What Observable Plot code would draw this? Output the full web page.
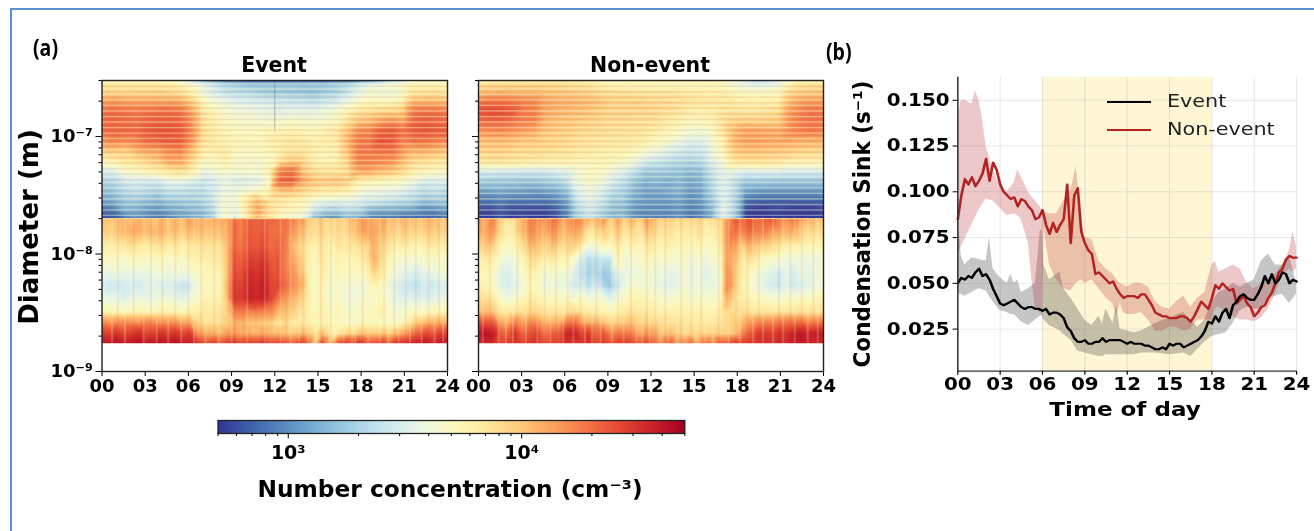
<!DOCTYPE html>
<html><head><meta charset="utf-8">
<script src="https://cdn.jsdelivr.net/npm/d3@7"></script>
<script src="https://cdn.jsdelivr.net/npm/@observablehq/plot@0.6"></script>
<style>
html,body{margin:0;padding:0;background:#fff;width:1314px;height:531px;overflow:hidden}
#page{position:relative;width:1314px;height:531px;filter:blur(0.5px)}
#border{position:absolute;left:9.5px;top:8px;width:1310px;height:540px;border:2.2px solid #5b8fd3;box-sizing:border-box}
.p{position:absolute}
.t{position:absolute;white-space:nowrap;font-family:"DejaVu Sans";font-weight:bold;color:#000;line-height:1}
</style></head><body><div id="page"><div id="border"></div></div>
<script>
// All concentrations are in units of 100 cm^-3, rows from largest diameter down, columns across the day.
const upperDiameters=[2.98e-7,2.75e-7,2.35e-7,2.01e-7,1.65e-7,1.36e-7,1.12e-7,9.2e-8,7.6e-8,6.2e-8,5.1e-8,4.2e-8,3.45e-8,2.84e-8,2.43e-8,2.02e-8];
const lowerDiameters=[2.0e-8,1.58e-8,1.18e-8,9.1e-9,6.9e-9,5.4e-9,4.2e-9,3.2e-9,2.6e-9,2.1e-9,1.74e-9];
const eventUpper=[
[50,50,50,50,50,50,50,40,25,15,10,8,7,6,6,6,6,6,6,6,6,7,7,8,9,14,22,30,45,50,50,50],
[70,70,70,70,70,70,65,60,45,35,28,22,20,18,18,18,18,18,17,18,18,20,22,28,35,40,45,50,55,55,55,55],
[90,90,85,85,85,90,85,80,60,40,30,25,22,22,20,18,18,17,17,16,18,20,24,35,45,40,40,45,70,75,75,70],
[130,140,130,130,130,130,130,120,90,55,40,35,30,30,28,28,25,25,25,22,25,28,35,45,50,50,50,60,110,110,110,100],
[190,200,190,180,190,200,200,190,130,70,55,45,40,38,36,35,32,35,35,35,38,42,55,70,75,80,85,95,180,190,190,170],
[200,210,200,190,210,220,220,210,150,75,60,50,45,42,42,40,42,45,42,42,45,50,70,100,110,130,150,130,210,220,210,200],
[200,210,210,200,230,240,240,230,160,80,65,55,50,50,50,55,55,60,55,55,60,65,100,160,170,220,230,190,230,240,230,220],
[150,170,160,170,200,210,220,220,150,75,65,60,55,55,50,60,65,70,65,60,60,65,110,180,180,240,230,170,190,190,170,160],
[90,95,90,110,130,130,160,170,110,65,60,65,50,50,48,55,60,70,70,60,55,60,100,180,180,190,190,140,120,120,110,100],
[55,60,70,75,85,95,130,130,85,50,48,60,45,45,42,48,70,90,85,60,55,58,80,170,170,160,150,110,80,75,70,65],
[30,32,45,50,55,60,70,75,60,38,40,48,42,45,42,55,170,190,100,75,70,70,75,130,130,110,100,80,60,55,50,50],
[20,22,28,30,28,28,35,35,30,26,28,36,30,32,32,45,210,220,130,100,95,100,90,60,55,52,50,48,38,30,32,30],
[16,17,22,24,22,20,24,24,22,22,28,35,36,40,45,60,100,100,85,70,65,65,60,45,38,36,35,32,26,22,24,22],
[12,13,17,18,16,14,17,18,18,20,25,42,40,65,110,70,65,60,55,40,35,33,35,30,28,26,24,22,20,16,18,18],
[8,9,14,14,12,11,13,14,15,16,22,45,35,70,130,75,60,55,50,28,22,20,24,22,15,14,14,13,12,10,11,12],
[6,6,8,10,9,8,9,11,13,14,20,45,30,60,110,70,45,40,35,14,10,9,14,12,9,8,8,7,7,7,7,8]];
const nonEventUpper=[
[60,62,65,70,70,72,75,72,70,70,68,62,60,60,58,60,60,60,60,60,58,58,50,40,28,22,22,28,50,60,62,60],
[75,80,80,85,85,85,82,80,75,72,68,60,55,55,55,55,52,52,52,50,52,55,50,40,35,32,35,38,62,72,78,75],
[105,115,120,115,110,110,105,100,100,95,90,80,75,75,75,72,72,70,70,65,62,60,60,55,50,50,50,55,85,95,100,100],
[170,190,190,180,165,160,130,120,120,115,110,100,90,90,90,85,85,82,78,72,72,70,70,65,60,58,60,62,110,130,140,140],
[240,260,250,230,180,170,125,115,110,105,100,90,85,85,85,85,80,75,70,62,60,62,70,70,68,68,72,80,140,170,190,180],
[190,210,210,190,170,165,115,105,100,95,90,85,80,80,78,78,75,65,60,52,52,55,75,85,90,88,90,90,150,175,190,180],
[150,155,160,150,135,125,100,95,90,85,80,78,75,75,72,70,62,55,50,42,40,48,72,110,135,135,130,125,160,175,185,175],
[105,110,110,105,95,95,90,85,80,75,72,70,68,66,65,60,52,45,38,32,32,42,62,115,135,135,130,125,125,120,120,115],
[85,88,88,85,80,80,78,75,72,68,65,62,60,58,52,46,38,32,28,26,26,36,55,95,105,105,100,100,95,88,85,85],
[70,72,72,70,68,66,65,62,60,55,55,55,52,48,38,30,26,24,22,20,22,32,42,70,75,75,72,70,62,62,60,60],
[30,30,28,28,27,27,28,30,32,42,50,48,38,32,24,18,18,17,17,15,16,26,35,35,30,32,32,32,30,30,30,30],
[19,18,18,18,17,17,18,20,24,40,45,42,28,24,17,14,15,14,15,13,14,22,32,24,18,18,18,17,17,17,17,17],
[12,12,13,12,12,11,12,13,16,32,38,32,22,20,14,12,12,13,14,11,12,20,32,22,12,11,11,11,11,11,11,11],
[8,8,9,8,8,8,8,9,12,26,32,26,18,17,12,11,11,11,12,10,11,17,30,20,8,7,7,7,7,7,7,7],
[6,6,7,6,6,6,6,7,10,22,28,22,16,15,11,10,10,10,11,9,10,15,34,20,6,5.5,5.5,6,5.5,5.5,5.5,6],
[5,5,6,5,5.5,5,5,6,9,20,24,18,14,15,10,9,9,9,10,8,9,13,30,18,5,5,5,5,5,5,5,5]];
const eventLower=[
[110,100,105,115,95,120,110,90,120,100,115,105,140,110,120,115,125,125,190,170,230,210,230,200,210,190,170,150,100,85,95,80,90,85,110,130,140,120,130,110,100,115,105,100,110,120,95,105],
[95,90,100,115,120,125,110,115,125,100,110,95,110,105,110,100,110,120,210,170,240,210,240,190,200,180,150,120,85,80,90,70,85,80,95,120,140,130,120,100,85,100,90,85,95,100,90,95],
[65,60,65,70,75,70,65,70,75,65,70,60,70,70,75,70,75,100,210,180,250,220,270,190,220,170,110,85,65,60,75,55,70,65,70,75,85,120,90,70,60,65,60,55,65,70,60,65],
[50,48,50,45,50,52,48,50,52,45,50,48,55,58,60,65,65,100,240,210,290,260,320,220,240,160,130,95,60,50,70,50,60,55,55,60,70,120,80,55,45,45,42,42,48,45,50,50],
[40,36,38,35,36,38,35,40,42,36,40,38,42,48,55,55,55,100,260,240,340,300,360,240,250,170,150,110,60,45,65,48,55,50,50,50,55,85,65,45,38,35,32,30,36,35,40,42],
[30,26,28,26,30,28,32,34,30,30,28,24,30,40,50,52,52,110,290,270,360,330,400,260,270,190,160,130,65,45,60,42,50,42,42,40,42,55,50,40,30,28,25,24,28,26,30,28],
[40,34,36,30,35,38,36,36,40,38,36,32,40,48,58,55,58,100,300,290,370,340,380,260,190,140,120,95,65,48,60,42,50,40,40,42,45,48,50,40,34,32,32,30,32,32,36,38],
[60,55,55,50,55,58,55,52,60,58,55,52,62,62,68,65,70,90,170,180,170,170,170,150,110,100,90,72,60,52,62,48,55,48,45,48,52,55,60,48,42,45,50,46,50,52,55,58],
[170,150,160,165,155,150,170,160,140,155,150,130,125,85,75,72,78,90,120,110,105,95,100,85,70,85,65,65,62,55,58,50,52,48,45,50,55,52,50,50,48,55,70,95,110,120,125,120],
[300,280,310,270,290,330,270,280,320,290,310,270,290,150,130,120,110,140,150,120,135,110,140,105,115,100,95,110,100,70,110,60,70,85,80,100,95,95,100,90,110,130,170,220,260,240,280,270],
[400,380,430,370,390,440,380,400,420,390,430,370,380,300,250,280,230,280,300,250,290,260,320,240,270,230,220,280,210,90,260,100,220,300,220,310,240,240,280,220,310,300,340,360,400,340,400,380]];
const nonEventLower=[
[160,120,170,90,70,80,120,170,170,130,200,160,130,180,150,120,110,150,90,130,85,120,90,150,100,85,95,80,85,75,90,70,80,75,160,230,200,260,190,230,240,170,150,190,120,120,100,110],
[140,130,150,80,60,75,110,160,150,110,170,120,110,150,110,70,80,100,75,100,70,85,70,110,85,70,80,65,70,62,75,58,65,70,170,190,170,210,170,180,150,130,120,130,85,85,80,85],
[85,100,90,55,50,55,75,110,110,75,110,80,80,95,60,40,45,55,50,70,50,60,55,70,60,55,60,52,60,50,60,48,52,60,160,130,90,120,90,90,80,70,60,60,55,55,52,60],
[55,65,60,42,38,42,55,75,80,55,70,55,60,45,30,22,24,25,25,55,38,45,45,55,48,45,45,42,50,38,45,38,45,50,150,100,65,75,60,50,45,42,40,40,38,38,38,42],
[55,55,50,32,30,36,45,60,55,38,50,40,42,30,26,18,22,17,20,35,35,38,38,45,38,38,36,35,42,35,40,32,38,42,170,90,60,50,42,35,32,28,36,28,38,34,40,45],
[60,55,50,32,30,32,40,55,50,36,40,36,38,26,30,22,28,20,17,28,38,45,42,42,36,36,32,35,42,36,40,34,36,42,180,85,55,45,38,32,28,26,34,26,32,32,38,40],
[80,75,65,45,38,45,50,65,60,48,50,48,50,40,50,38,45,40,32,42,50,58,55,55,48,45,42,45,50,42,48,45,45,50,130,70,62,55,50,48,45,42,48,45,50,48,55,60],
[110,110,100,70,65,72,75,85,85,70,72,70,70,85,70,65,62,60,55,60,70,72,68,68,62,60,60,60,62,58,62,58,58,62,85,75,78,72,70,72,68,72,72,70,75,72,70,80],
[260,240,230,130,120,170,130,160,170,110,120,120,170,210,130,120,120,110,85,90,100,100,85,90,80,75,75,72,72,68,68,68,68,72,85,90,110,140,160,170,170,190,190,200,200,170,180,190],
[400,420,380,230,220,320,210,240,280,180,230,220,350,380,260,300,200,240,170,180,190,170,130,150,130,90,110,90,80,85,80,85,90,85,90,100,170,230,290,300,280,320,320,380,400,350,380,380],
[360,350,340,260,290,320,270,300,310,250,280,260,330,300,300,340,260,290,250,270,290,250,230,260,200,160,230,150,160,190,130,200,150,220,230,280,280,300,310,330,320,340,340,370,380,360,350,360]];
// Size bins seen as pale stripes in the upper instrument range, and the darker bins between them.
const paleBins=[2.13e-8,2.37e-8,2.64e-8,2.94e-8,3.28e-8,3.65e-8,4.07e-8,4.53e-8,5.05e-8,5.62e-8,6.26e-8,6.97e-8,7.77e-8,8.65e-8,9.63e-8,1.07e-7,1.19e-7,1.33e-7,1.48e-7,1.65e-7,1.84e-7,2.05e-7,2.28e-7,2.54e-7,2.83e-7];
const darkBins=[2.25e-8,2.5e-8,2.79e-8,3.1e-8,3.46e-8,3.85e-8,4.3e-8,4.78e-8,5.33e-8,5.93e-8,6.6e-8,7.36e-8,8.2e-8,9.13e-8,1.02e-7,1.13e-7,1.26e-7,1.4e-7,1.56e-7,1.74e-7,1.94e-7,2.16e-7,2.41e-7,2.68e-7];
// Narrow vertical streaks in the lower instrument range (hour of day).
const eventPaleStreaks=[.7,1.6,2.9,3.8,4.6,5.5,6.4,7.2,8.1,9,10.1,11.3,12.4,13.1,13.7,14.3,14.9,15.5,16.2,16.8,17.6,18.5,19.3,19.9,20.6,21.4,22.2,23.1,23.7];
const eventDarkStreaks=[1.1,2.2,3.4,4.2,5.1,6,6.9,7.8,9.2,9.8,10.7,11.8,12.8,14,15.2,15.9,17.2,18.1,19.6,20.3,21.1,21.8,22.7,23.4];
const nonEventPaleStreaks=[.3,1.4,1.9,2.4,3.3,4.1,5,5.9,6.6,7.4,7.9,8.5,9.3,10.1,11,11.4,11.9,12.6,13.2,13.8,14.4,15.1,15.8,16.3,17.4,18.2,19.1,19.8,20.5,21.2,22,22.9,23.6];
const nonEventDarkStreaks=[.8,2.7,3.6,4.6,5.4,6.2,7.1,8.2,9.7,10.6,11.7,12.3,13,14.1,14.8,15.5,16.7,17.9,18.7,19.5,20.9,21.7,22.5,23.3];
const hourTicks=[0,3,6,9,12,15,18,21,24];
const majorDiameters=[1e-9,1e-8,1e-7];
const minorDiameters=[2e-9,3e-9,4e-9,5e-9,6e-9,7e-9,8e-9,9e-9,2e-8,3e-8,4e-8,5e-8,6e-8,7e-8,8e-8,9e-8,2e-7,3e-7];
const sinkHours=[0,.25,.5,.75,1,1.25,1.5,1.75,2,2.25,2.5,2.75,3,3.25,3.5,3.75,4,4.25,4.5,4.75,5,5.25,5.5,5.75,6,6.25,6.5,6.75,7,7.25,7.5,7.75,8,8.25,8.5,8.75,9,9.25,9.5,9.75,10,10.25,10.5,10.75,11,11.25,11.5,11.75,12,12.25,12.5,12.75,13,13.25,13.5,13.75,14,14.25,14.5,14.75,15,15.25,15.5,15.75,16,16.25,16.5,16.75,17,17.25,17.5,17.75,18,18.25,18.5,18.75,19,19.25,19.5,19.75,20,20.25,20.5,20.75,21,21.25,21.5,21.75,22,22.25,22.5,22.75,23,23.25,23.5,23.75,24];
const eventSink=[.050,.053,.052,.054,.053,.056,.058,.054,.055,.052,.047,.043,.039,.038,.039,.040,.041,.039,.037,.036,.037,.037,.036,.036,.035,.036,.033,.034,.034,.033,.031,.026,.024,.020,.018,.018,.019,.017,.017,.018,.018,.020,.018,.019,.019,.019,.019,.018,.017,.018,.017,.017,.017,.016,.016,.015,.014,.014,.015,.014,.017,.016,.017,.017,.015,.016,.017,.018,.019,.021,.024,.029,.028,.032,.029,.034,.036,.031,.038,.040,.043,.044,.042,.041,.041,.044,.048,.054,.050,.055,.050,.052,.056,.055,.050,.052,.051];
const nonEventSink=[.085,.098,.107,.104,.108,.103,.106,.110,.118,.106,.116,.112,.104,.100,.098,.096,.097,.092,.096,.095,.092,.090,.085,.086,.090,.082,.077,.083,.078,.082,.085,.104,.072,.098,.102,.078,.072,.068,.066,.055,.056,.054,.052,.050,.051,.047,.044,.042,.043,.043,.043,.042,.044,.044,.041,.038,.034,.033,.032,.032,.031,.031,.031,.032,.032,.031,.029,.032,.036,.040,.038,.036,.042,.049,.047,.050,.048,.046,.047,.039,.041,.043,.039,.037,.032,.034,.037,.038,.042,.045,.050,.056,.058,.063,.065,.064,.064];
const nonEventBandHours=[0,.25,.5,1,1.25,1.5,1.75,2,2.5,3,3.5,4,4.25,4.5,5,5.25,5.5,6,6.12,6.5,7,7.5,8,8.4,8.75,9,9.5,10,10.5,11,11.25,11.5,11.75,12,12.5,13,13.5,14,14.5,15,15.5,16,16.5,17,17.5,18,18.25,18.5,19,19.5,20,20.5,21,21.5,22,22.5,23,23.5,23.75,24];
const nonEventLow=[.066,.07,.074,.082,.086,.09,.093,.096,.095,.091,.087,.088,.087,.085,.072,.052,.036,.033,.08,.06,.052,.047,.046,.05,.052,.05,.052,.047,.042,.039,.032,.039,.034,.033,.033,.034,.03,.024,.024,.026,.026,.024,.025,.03,.03,.03,.036,.037,.034,.032,.03,.03,.029,.031,.036,.044,.054,.058,.056,.058];
const nonEventHigh=[.14,.15,.15,.148,.155,.15,.14,.125,.112,.103,.1,.105,.112,.108,.1,.097,.095,.09,.089,.088,.088,.095,.1,.114,.085,.075,.074,.062,.058,.055,.052,.05,.049,.048,.05,.05,.048,.04,.037,.036,.04,.043,.037,.042,.045,.06,.062,.056,.058,.06,.058,.05,.047,.05,.052,.055,.06,.068,.078,.07];
const eventBandHours=[0,.1,.25,.5,1,1.5,2,2.25,2.5,3,3.5,3.75,4,4.25,4.5,5,5.5,5.85,6,6.1,6.5,7,7.25,7.5,8,8.5,9,9.5,10,10.25,10.5,11,11.25,11.5,12,12.5,13,14,15,16,16.5,17,17.5,18,18.5,19,19.5,20,20.5,21,21.5,22,22.5,23,23.5,24];
const eventLow=[.044,.044,.044,.043,.045,.047,.046,.043,.04,.035,.034,.033,.033,.031,.029,.027,.03,.032,.032,.03,.027,.025,.024,.022,.019,.013,.012,.011,.01,.01,.011,.011,.011,.011,.011,.011,.012,.012,.011,.012,.01,.014,.018,.021,.022,.023,.028,.035,.037,.036,.036,.042,.043,.044,.039,.044];
const eventHigh=[.068,.08,.065,.06,.064,.063,.062,.075,.058,.053,.05,.055,.05,.052,.045,.047,.05,.079,.079,.06,.052,.055,.056,.047,.042,.036,.03,.027,.032,.028,.036,.028,.038,.025,.024,.023,.024,.028,.031,.034,.03,.026,.03,.04,.045,.047,.05,.048,.05,.052,.062,.066,.06,.06,.065,.05];
const daylight=[[6,18]];
const colorMajor=[1000,10000];
const colorMinor=[500,600,700,800,900,2000,3000,4000,5000,6000,7000,8000,9000,20000,30000,40000,50000];

const page=document.getElementById("page");
const font={fontFamily:"DejaVu Sans",fontWeight:"bold",fontSize:18,color:"#000",background:"none"};
const colorScale={type:"log",domain:[500,50000],scheme:"RdYlBu",reverse:true};
const pad=h=>String(h).padStart(2,"0");
const sup={"1e-7":"10⁻⁷","1e-8":"10⁻⁸","1e-9":"10⁻⁹"};
function place(svg,left,top,w,h){svg.classList.add("p");svg.style.left=left+"px";svg.style.top=top+"px";
  if(w){svg.setAttribute("width",w);svg.setAttribute("height",h);svg.setAttribute("preserveAspectRatio","none");svg.style.width=w+"px";svg.style.height=h+"px"}
  svg.style.overflow="visible";page.appendChild(svg)}
function label(text,x,y,size,extra=""){const d=document.createElement("div");d.className="t";d.textContent=text;
  d.style.cssText=`left:${x}px;top:${y}px;font-size:${size}px;transform:translate(-50%,-50%) ${extra};`;page.appendChild(d)}
function cells(rows,diams){return rows.flatMap((r,i)=>r.map((n,j)=>({h:j*24/(r.length-1),d:diams[i],n:n*100})))}
function panel(up,low,opts){
  const tall={y1:2.02e-8,y2:1.74e-9};
  return Plot.plot({width:opts.width,height:340,marginTop:20,marginBottom:29,marginLeft:opts.left,marginRight:13,style:font,
    x:{domain:[0,24]},y:{type:"log",domain:[1e-9,3e-7]},color:colorScale,
    marks:[
      Plot.raster(cells(up,upperDiameters),{x:"h",y:"d",fill:"n",interpolate:"barycentric",x1:0,x2:24,y1:3e-7,y2:2.02e-8,pixelSize:1}),
      Plot.raster(cells(low,lowerDiameters),{x:"h",y:"d",fill:"n",interpolate:"barycentric",x1:0,x2:24,y1:2.02e-8,y2:1.74e-9,pixelSize:1}),
      Plot.ruleY(darkBins,{stroke:"#a33",strokeOpacity:.1,strokeWidth:1.6}),
      Plot.ruleY(paleBins,{stroke:"#fff8d0",strokeOpacity:.42,strokeWidth:1.3}),
      Plot.ruleX(opts.pale,{...tall,stroke:"#fff6c8",strokeOpacity:.22,strokeWidth:2}),
      Plot.ruleX(opts.dark,{...tall,stroke:"#c2261f",strokeOpacity:.08,strokeWidth:2}),
      opts.mark12?Plot.ruleX([12],{y1:2.9e-7,y2:1.1e-7,stroke:"#667",strokeOpacity:.55,strokeWidth:.8}):null,
      Plot.frame({stroke:"#222",strokeWidth:1.4}),
      Plot.axisX({ticks:hourTicks,tickFormat:pad,tickSize:5,tickPadding:3,label:null}),
      Plot.axisY({ticks:majorDiameters,tickFormat:opts.labels?(d=>sup[String(d)]):(()=>""),tickSize:6,tickPadding:3,label:null,fontSize:18}),
      Plot.axisY({ticks:minorDiameters,tickFormat:()=>"",tickSize:3,label:null})
    ]});
}
place(panel(eventUpper,eventLower,{width:460,left:101.5,labels:true,mark12:true,pale:eventPaleStreaks,dark:eventDarkStreaks}),0,60);
place(panel(nonEventUpper,nonEventLower,{width:370,left:12,labels:false,pale:nonEventPaleStreaks,dark:nonEventDarkStreaks}),466,60);

// Colour bar
const stops=d3.range(234).map(i=>500*Math.pow(100,i/233));
place(Plot.plot({width:500,height:45,marginTop:15,marginBottom:17,marginLeft:17.5,marginRight:15.7,style:font,
  x:{type:"log",domain:[500,50000]},y:{domain:[0,1],axis:null},color:colorScale,
  marks:[
    Plot.rect(stops.slice(0,-1),{x1:d=>d,x2:(d,i)=>stops[i+1]*1.002,y1:0,y2:1,fill:d=>d,shapeRendering:"crispEdges"}),
    Plot.frame({stroke:"#222",strokeWidth:1.3}),
    Plot.axisX({ticks:colorMinor,tickFormat:()=>"",tickSize:3,label:null}),
    Plot.axisX({ticks:colorMajor,tickFormat:d=>d===1000?"10³":"10⁴",tickSize:5.5,tickPadding:6,fontSize:19,label:null})
  ]}),200,405);

// Panel b
const sx=1.17,bW=494,bH=350;
const lineRows=(hs,vs)=>hs.map((h,i)=>({h,v:vs[i]}));
const bandRows=(hs,lo,hi)=>hs.map((h,i)=>({h,lo:lo[i],hi:hi[i]}));
place(Plot.plot({width:bW/sx,height:bH,marginTop:16.7,marginBottom:39.3,marginLeft:117.3,marginRight:15.4,style:{...font,fontSize:17},
  x:{domain:[0,24]},y:{domain:[.002,.1626]},
  marks:[
    Plot.rect(daylight,{x1:d=>d[0],x2:d=>d[1],fill:"#fff6d6"}),
    Plot.gridX(hourTicks,{stroke:"#aab",strokeOpacity:.28,strokeWidth:.9}),
    Plot.gridY([.025,.05,.075,.1,.125,.15],{stroke:"#aab",strokeOpacity:.28,strokeWidth:.9}),
    Plot.areaY(bandRows(eventBandHours,eventLow,eventHigh),{x:"h",y1:"lo",y2:"hi",fill:"#333",fillOpacity:.28,curve:"linear"}),
    Plot.areaY(bandRows(nonEventBandHours,nonEventLow,nonEventHigh),{x:"h",y1:"lo",y2:"hi",fill:"#b22222",fillOpacity:.25,curve:"linear"}),
    Plot.line(lineRows(sinkHours,nonEventSink),{x:"h",y:"v",stroke:"#b22222",strokeWidth:2.2}),
    Plot.line(lineRows(sinkHours,eventSink),{x:"h",y:"v",stroke:"#000",strokeWidth:2.2}),
    Plot.ruleX([0],{stroke:"#333",strokeWidth:1.3}),
    Plot.ruleY([.002],{stroke:"#333",strokeWidth:1.3}),
    Plot.axisX({ticks:hourTicks,tickFormat:pad,tickSize:4,tickPadding:3,label:null}),
    Plot.axisY({ticks:[.025,.05,.075,.1,.125,.15],tickFormat:d=>d.toFixed(3),tickSize:4,tickPadding:3,label:null})
  ]}),820,60,bW,bH);

// Text
label("Event",274,65,20.5);
label("Non-event",650,65,20.5);
label("Diameter (m)",29,227,26,"rotate(-90deg)");
label("Number concentration (cm⁻³)",450,489,23.3);
label("Time of day",1125,410,19.7,"scaleX(1.17)");
label("Condensation Sink (s⁻¹)",862,223.5,21.5,"rotate(-90deg) scaleY(1.1)");
const heading=(t,x,y)=>{const a=document.createElement("div");a.className="t";a.textContent=t;a.style.cssText=`left:${x}px;top:${y}px;font-family:"Open Sans";font-weight:700;font-size:23px;transform:scaleX(.85);transform-origin:left`;page.appendChild(a)};
heading("(a)",33,36);
heading("(b)",826,40);
// Legend
[["Event","#000",102],["Non-event","#b22222",130]].forEach(([t,c,y])=>{
  const l=document.createElement("div");l.style.cssText=`position:absolute;left:1107px;top:${y-1}px;width:44px;height:2.4px;background:${c}`;page.appendChild(l);
  const s=document.createElement("div");s.className="t";s.textContent=t;s.style.cssText=`left:1167px;top:${y-10}px;font-weight:normal;font-size:18px;color:#222;transform:scaleX(1.15);transform-origin:left`;page.appendChild(s);
});
</script></body></html>
